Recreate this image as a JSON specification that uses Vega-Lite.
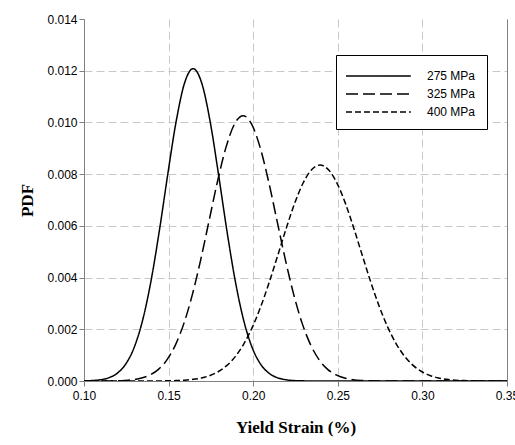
{
  "$schema": "https://vega.github.io/schema/vega-lite/v6.json",
  "width": 423,
  "height": 362,
  "autosize": {"type": "none"},
  "padding": {"left": 84, "top": 19, "right": 8, "bottom": 64},
  "background": "white",
  "config": {"view": {"stroke": null}, "font": "Liberation Sans"},
  "data": {"values": [
    {"s": "275 MPa", "x": 0.10, "y": 0.000007},
    {"s": "275 MPa", "x": 0.1045, "y": 0.0000162},
    {"s": "275 MPa", "x": 0.1095, "y": 0.0000467},
    {"s": "275 MPa", "x": 0.1145, "y": 0.000122},
    {"s": "275 MPa", "x": 0.1195, "y": 0.000293},
    {"s": "275 MPa", "x": 0.1245, "y": 0.000640},
    {"s": "275 MPa", "x": 0.1295, "y": 0.001273},
    {"s": "275 MPa", "x": 0.1345, "y": 0.002313},
    {"s": "275 MPa", "x": 0.1395, "y": 0.003833},
    {"s": "275 MPa", "x": 0.1445, "y": 0.005795},
    {"s": "275 MPa", "x": 0.1495, "y": 0.007991},
    {"s": "275 MPa", "x": 0.1545, "y": 0.010053},
    {"s": "275 MPa", "x": 0.1595, "y": 0.011538},
    {"s": "275 MPa", "x": 0.1645, "y": 0.01208},
    {"s": "275 MPa", "x": 0.1695, "y": 0.011538},
    {"s": "275 MPa", "x": 0.1745, "y": 0.010053},
    {"s": "275 MPa", "x": 0.1795, "y": 0.007991},
    {"s": "275 MPa", "x": 0.1845, "y": 0.005795},
    {"s": "275 MPa", "x": 0.1895, "y": 0.003833},
    {"s": "275 MPa", "x": 0.1945, "y": 0.002313},
    {"s": "275 MPa", "x": 0.1995, "y": 0.001273},
    {"s": "275 MPa", "x": 0.2045, "y": 0.000640},
    {"s": "275 MPa", "x": 0.2095, "y": 0.000293},
    {"s": "275 MPa", "x": 0.2145, "y": 0.000122},
    {"s": "275 MPa", "x": 0.2195, "y": 0.0000467},
    {"s": "275 MPa", "x": 0.2245, "y": 0.0000162},
    {"s": "275 MPa", "x": 0.2295, "y": 0.0000052},
    {"s": "275 MPa", "x": 0.25, "y": 0},
    {"s": "275 MPa", "x": 0.30, "y": 0},
    {"s": "275 MPa", "x": 0.35, "y": 0},
    {"s": "325 MPa", "x": 0.10, "y": 0},
    {"s": "325 MPa", "x": 0.114, "y": 0.0000034},
    {"s": "325 MPa", "x": 0.119, "y": 0.0000091},
    {"s": "325 MPa", "x": 0.124, "y": 0.0000224},
    {"s": "325 MPa", "x": 0.129, "y": 0.0000522},
    {"s": "325 MPa", "x": 0.134, "y": 0.000114},
    {"s": "325 MPa", "x": 0.139, "y": 0.000234},
    {"s": "325 MPa", "x": 0.144, "y": 0.000451},
    {"s": "325 MPa", "x": 0.149, "y": 0.000816},
    {"s": "325 MPa", "x": 0.154, "y": 0.001389},
    {"s": "325 MPa", "x": 0.159, "y": 0.002219},
    {"s": "325 MPa", "x": 0.164, "y": 0.003331},
    {"s": "325 MPa", "x": 0.169, "y": 0.004697},
    {"s": "325 MPa", "x": 0.174, "y": 0.006223},
    {"s": "325 MPa", "x": 0.179, "y": 0.007745},
    {"s": "325 MPa", "x": 0.184, "y": 0.009054},
    {"s": "325 MPa", "x": 0.189, "y": 0.009944},
    {"s": "325 MPa", "x": 0.194, "y": 0.01026},
    {"s": "325 MPa", "x": 0.199, "y": 0.009944},
    {"s": "325 MPa", "x": 0.204, "y": 0.009054},
    {"s": "325 MPa", "x": 0.209, "y": 0.007745},
    {"s": "325 MPa", "x": 0.214, "y": 0.006223},
    {"s": "325 MPa", "x": 0.219, "y": 0.004697},
    {"s": "325 MPa", "x": 0.224, "y": 0.003331},
    {"s": "325 MPa", "x": 0.229, "y": 0.002219},
    {"s": "325 MPa", "x": 0.234, "y": 0.001389},
    {"s": "325 MPa", "x": 0.239, "y": 0.000816},
    {"s": "325 MPa", "x": 0.244, "y": 0.000451},
    {"s": "325 MPa", "x": 0.249, "y": 0.000234},
    {"s": "325 MPa", "x": 0.254, "y": 0.000114},
    {"s": "325 MPa", "x": 0.259, "y": 0.0000522},
    {"s": "325 MPa", "x": 0.264, "y": 0.0000224},
    {"s": "325 MPa", "x": 0.269, "y": 0.0000091},
    {"s": "325 MPa", "x": 0.274, "y": 0.0000034},
    {"s": "325 MPa", "x": 0.30, "y": 0},
    {"s": "325 MPa", "x": 0.35, "y": 0},
    {"s": "400 MPa", "x": 0.10, "y": 0},
    {"s": "400 MPa", "x": 0.1395, "y": 0.0000014},
    {"s": "400 MPa", "x": 0.1445, "y": 0.0000033},
    {"s": "400 MPa", "x": 0.1495, "y": 0.0000074},
    {"s": "400 MPa", "x": 0.1545, "y": 0.0000158},
    {"s": "400 MPa", "x": 0.1595, "y": 0.0000323},
    {"s": "400 MPa", "x": 0.1645, "y": 0.0000633},
    {"s": "400 MPa", "x": 0.1695, "y": 0.000119},
    {"s": "400 MPa", "x": 0.1745, "y": 0.000213},
    {"s": "400 MPa", "x": 0.1795, "y": 0.000367},
    {"s": "400 MPa", "x": 0.1845, "y": 0.000604},
    {"s": "400 MPa", "x": 0.1895, "y": 0.000953},
    {"s": "400 MPa", "x": 0.1945, "y": 0.001440},
    {"s": "400 MPa", "x": 0.1995, "y": 0.002082},
    {"s": "400 MPa", "x": 0.2045, "y": 0.002883},
    {"s": "400 MPa", "x": 0.2095, "y": 0.003823},
    {"s": "400 MPa", "x": 0.2145, "y": 0.004854},
    {"s": "400 MPa", "x": 0.2195, "y": 0.005901},
    {"s": "400 MPa", "x": 0.2245, "y": 0.006869},
    {"s": "400 MPa", "x": 0.2295, "y": 0.007656},
    {"s": "400 MPa", "x": 0.2345, "y": 0.008171},
    {"s": "400 MPa", "x": 0.2395, "y": 0.00835},
    {"s": "400 MPa", "x": 0.2445, "y": 0.008171},
    {"s": "400 MPa", "x": 0.2495, "y": 0.007656},
    {"s": "400 MPa", "x": 0.2545, "y": 0.006869},
    {"s": "400 MPa", "x": 0.2595, "y": 0.005901},
    {"s": "400 MPa", "x": 0.2645, "y": 0.004854},
    {"s": "400 MPa", "x": 0.2695, "y": 0.003823},
    {"s": "400 MPa", "x": 0.2745, "y": 0.002883},
    {"s": "400 MPa", "x": 0.2795, "y": 0.002082},
    {"s": "400 MPa", "x": 0.2845, "y": 0.001440},
    {"s": "400 MPa", "x": 0.2895, "y": 0.000953},
    {"s": "400 MPa", "x": 0.2945, "y": 0.000604},
    {"s": "400 MPa", "x": 0.2995, "y": 0.000367},
    {"s": "400 MPa", "x": 0.3045, "y": 0.000213},
    {"s": "400 MPa", "x": 0.3095, "y": 0.000119},
    {"s": "400 MPa", "x": 0.3145, "y": 0.0000633},
    {"s": "400 MPa", "x": 0.3195, "y": 0.0000323},
    {"s": "400 MPa", "x": 0.3245, "y": 0.0000158},
    {"s": "400 MPa", "x": 0.3295, "y": 0.0000074},
    {"s": "400 MPa", "x": 0.3345, "y": 0.0000033},
    {"s": "400 MPa", "x": 0.3395, "y": 0.0000014},
    {"s": "400 MPa", "x": 0.35, "y": 0}
  ]},
  "layer": [
    {
      "mark": {"type": "line", "color": "black", "strokeWidth": 1.5, "interpolate": "monotone", "clip": true},
      "encoding": {
        "x": {
          "field": "x", "type": "quantitative",
          "scale": {"domain": [0.10, 0.35], "nice": false, "zero": false},
          "axis": {
            "values": [0.10, 0.15, 0.20, 0.25, 0.30, 0.35],
            "format": ".2f",
            "labelFont": "Liberation Sans", "labelFontSize": 12, "labelColor": "#000000",
            "labelPadding": 4, "labelFlush": false, "labelOverlap": false,
            "domainColor": "#808080", "tickColor": "#808080", "tickSize": 5,
            "grid": true, "gridColor": "#c8c8c8", "gridDash": [8, 4], "gridWidth": 1,
            "title": "Yield Strain (%)",
            "titleFont": "Liberation Serif", "titleFontSize": 17, "titleFontWeight": "bold",
            "titleColor": "#000000", "titlePadding": 18
          }
        },
        "y": {
          "field": "y", "type": "quantitative",
          "scale": {"domain": [0, 0.014], "nice": false},
          "axis": {
            "values": [0, 0.002, 0.004, 0.006, 0.008, 0.010, 0.012, 0.014],
            "format": ".3f",
            "labelFont": "Liberation Sans", "labelFontSize": 12, "labelColor": "#000000",
            "labelPadding": 2,
            "domainColor": "#808080", "tickColor": "#808080", "tickSize": 5,
            "grid": true, "gridColor": "#c8c8c8", "gridDash": [8, 4], "gridWidth": 1,
            "gridOpacity": {"condition": {"test": "datum.value >= 0.0139", "value": 0}, "value": 1},
            "title": "PDF",
            "titleFont": "Liberation Serif", "titleFontSize": 17, "titleFontWeight": "bold",
            "titleColor": "#000000", "titlePadding": 10
          }
        },
        "strokeDash": {
          "field": "s", "type": "nominal",
          "scale": {"domain": ["275 MPa", "325 MPa", "400 MPa"], "range": [[1, 0], [12, 5], [6, 3]]},
          "legend": {
            "orient": "none", "legendX": 252, "legendY": 36,
            "title": null,
            "fillColor": "white", "strokeColor": "black", "cornerRadius": 0,
            "padding": 11, "rowPadding": 2,
            "symbolType": "M-3.6,0H3.6", "symbolSize": 324, "symbolStrokeWidth": 1.5,
            "symbolStrokeColor": "black", "symbolFillColor": "transparent",
            "symbolOffset": 21.4,
            "labelFont": "Liberation Sans", "labelFontSize": 12, "labelColor": "#000000",
            "labelOffset": 38.6
          }
        }
      }
    },
    {
      "mark": {"type": "line", "opacity": 0},
      "encoding": {
        "x": {"field": "x", "type": "quantitative"},
        "y": {
          "field": "y", "type": "quantitative",
          "axis": {"orient": "right", "labels": false, "ticks": false, "grid": false, "title": null, "domainColor": "#808080"}
        },
        "detail": {"field": "s", "type": "nominal"}
      }
    }
  ],
  "resolve": {"axis": {"y": "independent"}}
}
